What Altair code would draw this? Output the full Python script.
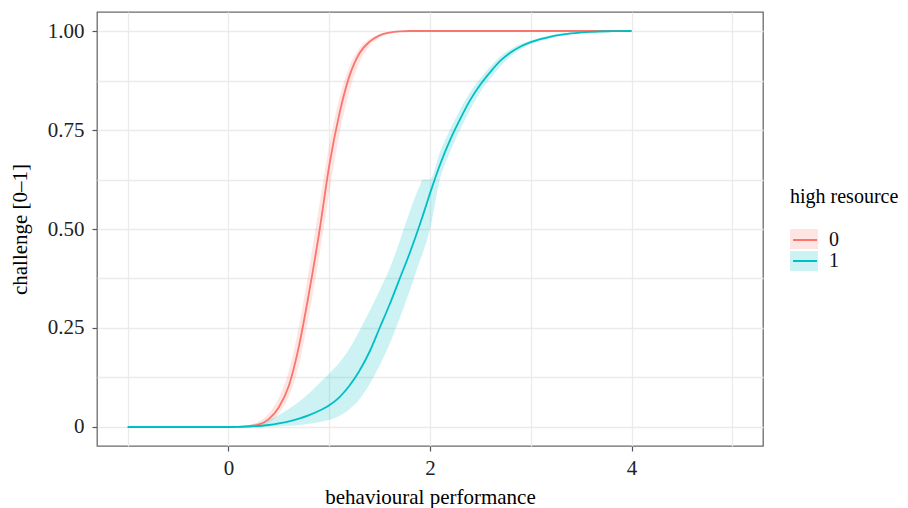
import altair as alt
import pandas as pd

# ---- data ----
series_names = ["0", "1"]
series_colors = ["#F8766D", "#00BFC4"]

red_x = [-1, -0.5, 0, 0.1, 0.2, 0.3, 0.4, 0.5, 0.6, 0.7, 0.8, 0.9, 1.0, 1.1, 1.2,
         1.3, 1.4, 1.5, 1.6, 1.7, 1.8, 2.0, 2.5, 3.0, 3.5, 4.0]
red_y = [0, 0, 0, 0.0005, 0.002, 0.006, 0.02, 0.05, 0.105, 0.205, 0.34, 0.49, 0.66,
         0.79, 0.886, 0.944, 0.973, 0.989, 0.996, 0.999, 1, 1, 1, 1, 1, 1]
red_lo = [0, 0, 0, 0, 0.0007, 0.003, 0.011, 0.034, 0.078, 0.158, 0.285, 0.43, 0.592,
          0.738, 0.848, 0.921, 0.962, 0.983, 0.993, 0.998, 0.999, 1, 1, 1, 1, 1]
red_hi = [0, 0, 0, 0.0012, 0.005, 0.013, 0.034, 0.074, 0.142, 0.255, 0.40, 0.558, 0.712,
          0.83, 0.91, 0.957, 0.98, 0.992, 0.997, 1, 1, 1, 1, 1, 1, 1]

teal_x = [-1, -0.5, 0, 0.2, 0.4, 0.5, 0.6, 0.7, 0.8, 0.9, 1.0, 1.1, 1.2, 1.3, 1.4,
          1.5, 1.6, 1.7, 1.8, 1.9, 1.93, 2.0, 2.1, 2.2, 2.3, 2.4, 2.5, 2.6, 2.7,
          2.8, 2.9, 3.0, 3.2, 3.4, 3.6, 3.8, 4.0]
teal_y = [0, 0, 0, 0.001, 0.005, 0.009, 0.014, 0.021, 0.03, 0.041, 0.055, 0.075,
          0.104, 0.142, 0.19, 0.25, 0.31, 0.375, 0.44, 0.512, 0.535, 0.59, 0.663,
          0.725, 0.778, 0.826, 0.865, 0.897, 0.925, 0.946, 0.961, 0.972, 0.986,
          0.994, 0.998, 0.9995, 1.0]
teal_lo = [0, 0, 0, 0, 0.001, 0.002, 0.003, 0.005, 0.008, 0.012, 0.018, 0.028,
           0.045, 0.07, 0.108, 0.155, 0.21, 0.275, 0.345, 0.42, 0.44, 0.50, 0.627,
           0.695, 0.752, 0.802, 0.846, 0.881, 0.911, 0.936, 0.954, 0.967, 0.982,
           0.992, 0.997, 0.999, 1.0]
teal_hi = [0, 0, 0, 0.005, 0.018, 0.03, 0.046, 0.064, 0.085, 0.11, 0.135, 0.162,
           0.198, 0.243, 0.293, 0.345, 0.40, 0.47, 0.545, 0.61, 0.625, 0.625, 0.695,
           0.752, 0.802, 0.846, 0.881, 0.911, 0.936, 0.954, 0.967, 0.976, 0.989,
           0.996, 0.999, 1.0, 1.0]

x_breaks = [-1, 0, 1, 2, 3, 4, 5]
y_breaks = [0, 0.125, 0.25, 0.375, 0.5, 0.625, 0.75, 0.875, 1.0]

x_title = "behavioural performance"
y_title = "challenge [0–1]"
legend_title = "high resource"

# ---- build table ----
rows = []
for name, xs, ys, los, his in [
    (series_names[0], red_x, red_y, red_lo, red_hi),
    (series_names[1], teal_x, teal_y, teal_lo, teal_hi),
]:
    for x, y, lo, hi in zip(xs, ys, los, his):
        rows.append({"series": name, "x": x, "y": y, "lo": lo, "hi": hi})
df = pd.DataFrame(rows)

FONT = "Liberation Serif"

xscale = alt.Scale(domain=[-1.305, 5.305], nice=False, zero=False)
yscale = alt.Scale(domain=[-0.048, 1.048], nice=False, zero=False)
cscale = alt.Scale(domain=series_names, range=series_colors)

xaxis = alt.Axis(
    values=x_breaks,
    labelExpr="datum.value % 2 === 0 ? format(datum.value, 'd') : ''",
    tickOpacity={"condition": {"test": "datum.value % 2 !== 0", "value": 0}, "value": 1},
    title=x_title,
    labelPadding=6,
    titlePadding=8,
)
yaxis = alt.Axis(
    values=y_breaks,
    labelExpr="datum.value === 0 ? '0' : (abs(datum.value*4 - round(datum.value*4)) < 1e-6 ? format(datum.value, '.2f') : '')",
    tickOpacity={"condition": {"test": "abs(datum.value*4 - round(datum.value*4)) > 1e-6", "value": 0}, "value": 1},
    title=y_title,
    labelPadding=8,
    titlePadding=17,
)

base = alt.Chart(df)

# ribbons: legend shows only the pale key boxes (no title, no labels)
areas = base.mark_area(opacity=0.2, interpolate="monotone").encode(
    x=alt.X("x:Q", scale=xscale, axis=xaxis),
    y=alt.Y("lo:Q", scale=yscale, axis=yaxis),
    y2="hi:Q",
    fill=alt.Fill("series:N", scale=cscale, legend=alt.Legend(
        title=None, orient="none", legendX=693, legendY=217,
        symbolType="M-1,-1H1.8V1H-1Z", symbolSize=400,
        symbolOpacity=0.2, symbolStrokeWidth=0,
        labelExpr="''", labelFontSize=20, rowPadding=2, padding=0)),
)

# lines: legend carries the title, the labels and the line keys
lines = base.mark_line(strokeWidth=1.8, interpolate="monotone").encode(
    x=alt.X("x:Q", scale=xscale),
    y=alt.Y("y:Q", scale=yscale),
    stroke=alt.Stroke("series:N", scale=cscale, legend=alt.Legend(
        title=legend_title, orient="none", legendX=693, legendY=175,
        symbolType="M-0.8,0H1.6", symbolSize=400, symbolStrokeWidth=2,
        labelFont=FONT, labelFontSize=20, labelColor="#111", labelOffset=17,
        titleFont=FONT, titleFontSize=20, titleFontWeight="normal", titleColor="#000",
        titlePadding=22, rowPadding=0, padding=0)),
)

chart = alt.layer(areas, lines).resolve_scale(fill="independent", stroke="independent").properties(
    width=666, height=434,
    autosize=alt.AutoSizeParams(type="none"),
    padding={"left": 89, "top": 4, "right": 137, "bottom": 62},
).configure_view(
    stroke="#6a6a6a", strokeWidth=1.3,
).configure_axis(
    domain=False,
    grid=True, gridColor="#EBEBEB", gridWidth=1.3,
    tickColor="#555", tickSize=5, tickWidth=1.2,
    labelFont=FONT, labelFontSize=21, labelColor="#222",
    titleFont=FONT, titleFontSize=21, titleFontWeight="normal", titleColor="#000",
)

chart.save("out.html", embed_options={"renderer": "svg", "actions": False})
